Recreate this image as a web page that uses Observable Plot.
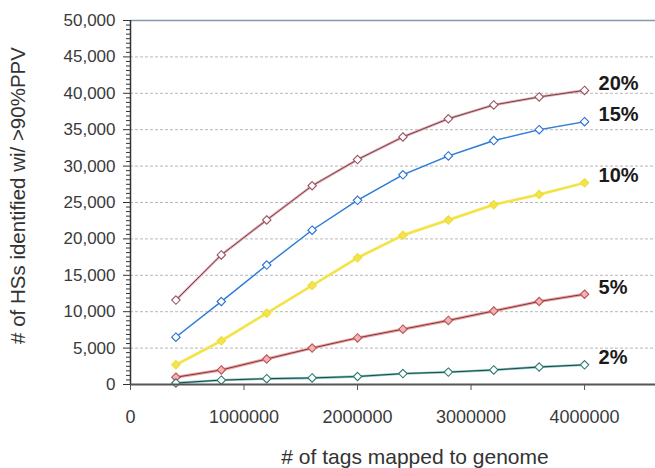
<!DOCTYPE html>
<html>
<head>
<meta charset="utf-8">
<script src="https://cdn.jsdelivr.net/npm/d3@7"></script>
<script src="https://cdn.jsdelivr.net/npm/@observablehq/plot@0.6"></script>
<style>
  html, body { margin: 0; padding: 0; background: #fff; }
  #chart svg { display: block; }
</style>
</head>
<body>
<div id="chart"></div>
<script>
// Data
const tags = [400000, 800000, 1200000, 1600000, 2000000, 2400000, 2800000, 3200000, 3600000, 4000000];
const seriesNames = ["20%", "15%", "10%", "5%", "2%"];
const hs20 = [11600, 17800, 22600, 27300, 30900, 34000, 36500, 38400, 39500, 40400];
const hs15 = [6500, 11400, 16400, 21200, 25300, 28800, 31400, 33500, 35000, 36100];
const hs10 = [2700, 6000, 9800, 13600, 17400, 20500, 22600, 24700, 26100, 27700];
const hs5  = [1000, 2000, 3500, 5000, 6400, 7600, 8800, 10100, 11400, 12400];
const hs2  = [200, 600, 800, 900, 1100, 1500, 1700, 2000, 2400, 2700];
const xTicks = [0, 1000000, 2000000, 3000000, 4000000];
const yTicks = [0, 5000, 10000, 15000, 20000, 25000, 30000, 35000, 40000, 45000, 50000];
const xTitle = "# of tags mapped to genome";
const yTitle = "# of HSs identified wi/ >90%PPV";

const valuesBySeries = [hs20, hs15, hs10, hs5, hs2];
const rows = seriesNames.flatMap((s, i) => tags.map((t, j) => ({series: s, tags: t, hs: valuesBySeries[i][j]})));

const style = {
  "20%": {halo: "#e9a7ae", line: "#6b4850", mark: "#9a5563", haloW: 2.6, w: 1, fill: "white"},
  "15%": {halo: "#8fc0f0", line: "#2b76d2", mark: "#2b6fd0", haloW: 1.6, w: 1.1, fill: "white"},
  "10%": {halo: "#f7ee8a", line: "#f3e245", mark: "#eedc3c", haloW: 3, w: 2, fill: "#f3e44e"},
  "5%":  {halo: "#f0a0a0", line: "#7a3a3a", mark: "#b9545a", haloW: 3, w: 1, fill: "#f3b3b3"},
  "2%":  {halo: "#7cc4c4", line: "#22463d", mark: "#2f7a70", haloW: 2.4, w: 1, fill: "white"}
};

const minorTicks = d3.range(0, 50001, 625).filter(v => v % 5000 !== 0);
const lastRows = rows.filter(d => d.tags === tags[tags.length - 1]);

const marks = [
  Plot.gridY(yTicks.filter(v => v > 0 && v < 50000), {stroke: "#b8b8b8", strokeOpacity: 1, strokeDasharray: "3,2"}),
  Plot.ruleY([50000], {stroke: "#8797ad", strokeWidth: 1.6}),
  Plot.axisY(minorTicks, {tickSize: 4, tickFormat: () => "", label: null, stroke: "#333"}),
  Plot.axisY(yTicks, {tickSize: 7, tickPadding: 8, tickFormat: d3.format(","), label: null, fontSize: 17, fill: "#3a3a3a", stroke: "#333"}),
  Plot.axisX(xTicks, {tickSize: 6, tickPadding: 20, tickFormat: d3.format("d"), label: null, fontSize: 18, fill: "#3a3a3a", stroke: "#555"}),
];
for (const s of seriesNames) {
  const st = style[s];
  const data = rows.filter(d => d.series === s);
  marks.push(Plot.line(data, {x: "tags", y: "hs", stroke: st.halo, strokeWidth: st.haloW}));
  marks.push(Plot.line(data, {x: "tags", y: "hs", stroke: st.line, strokeWidth: st.w}));
  marks.push(Plot.dot(data, {x: "tags", y: "hs", symbol: "diamond2", r: 3.8, fill: st.fill, stroke: st.mark, strokeWidth: 1.1}));
}
marks.push(
  Plot.ruleX([0], {stroke: "#333", strokeWidth: 1.5}),
  Plot.ruleY([0], {stroke: "#555", strokeWidth: 1.8}),
  Plot.text(lastRows, {x: "tags", y: "hs", text: "series", textAnchor: "start", dx: 14, dy: -7, fontSize: 20, fontWeight: "bold", fill: "#1a1a1a"}),
  Plot.text([xTitle], {frameAnchor: "bottom", textAnchor: "middle", lineAnchor: "bottom", dx: 22, dy: 79, fontSize: 21, fill: "#333"}),
  Plot.text([yTitle], {frameAnchor: "left", textAnchor: "middle", lineAnchor: "middle", rotate: -90, dx: -112, dy: -7, fontSize: 20.5, fill: "#333"})
);

const chart = Plot.plot({
  width: 655,
  height: 468,
  marginLeft: 130,
  marginRight: 0,
  marginTop: 20,
  marginBottom: 84,
  style: {fontFamily: "'Liberation Sans', Arial, sans-serif", fontSize: "17px", color: "#333", background: "#fff"},
  x: {type: "linear", domain: [0, 4625000]},
  y: {type: "linear", domain: [0, 50000]},
  marks
});
document.getElementById("chart").appendChild(chart);
</script>
</body>
</html>
